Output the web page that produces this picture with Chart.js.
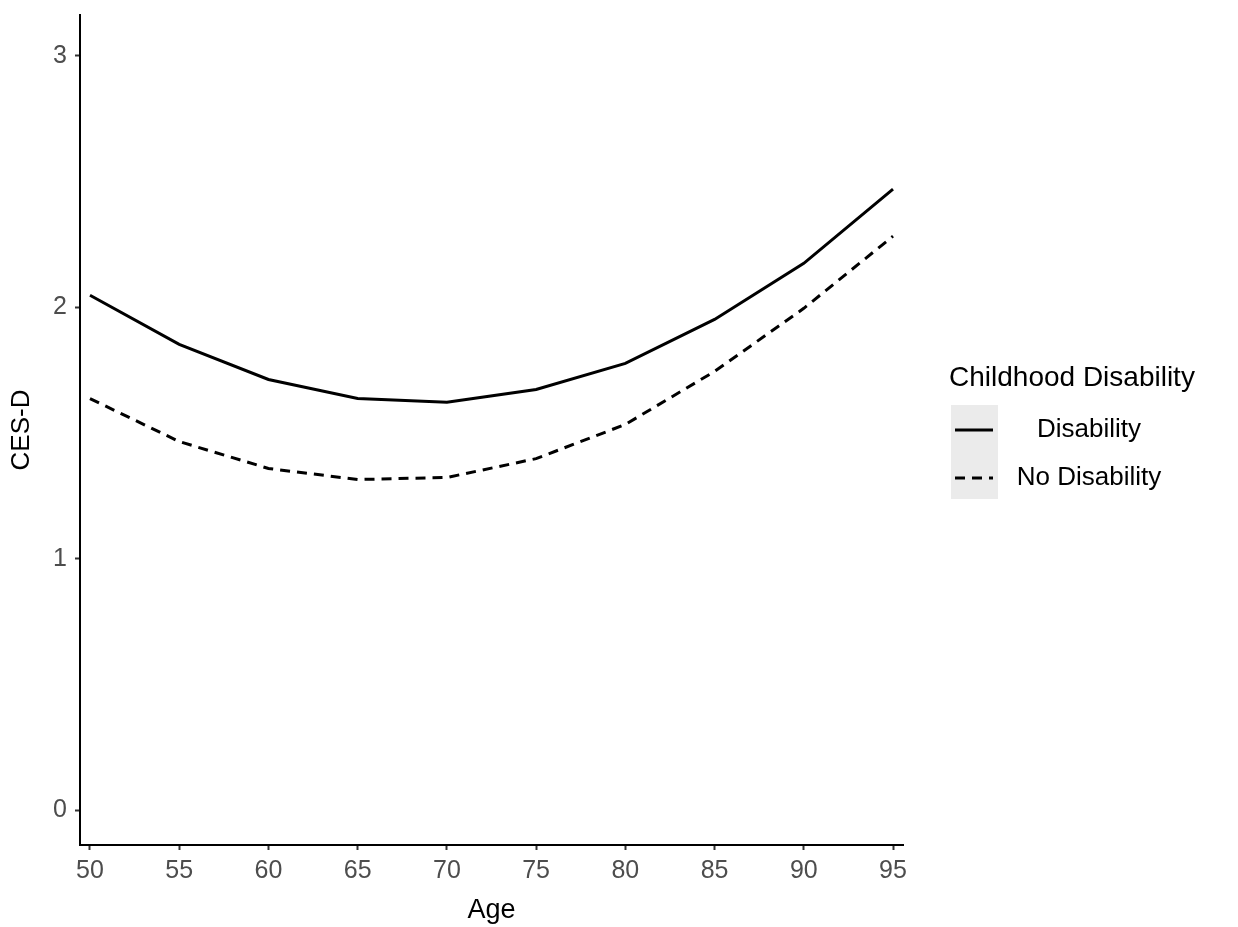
<!DOCTYPE html>
<html>
<head>
<meta charset="utf-8">
<script src="https://cdn.jsdelivr.net/npm/chart.js@4.4.1/dist/chart.umd.min.js"></script>
<style>
  html, body { margin: 0; padding: 0; background: #fff; }
  canvas { display: block; }
</style>
</head>
<body>
<canvas id="chart" width="1238" height="927"></canvas>
<script>
// Data
const ages = [50, 55, 60, 65, 70, 75, 80, 85, 90, 95];
const disability = [2.048, 1.853, 1.713, 1.637, 1.622, 1.673, 1.777, 1.952, 2.175, 2.470];
const noDisability = [1.637, 1.466, 1.359, 1.315, 1.323, 1.398, 1.534, 1.745, 1.996, 2.283];
const xTicks = [50, 55, 60, 65, 70, 75, 80, 85, 90, 95];
const yTicks = [0, 1, 2, 3];
const seriesNames = ['Disability', 'No Disability'];
const legendTitle = 'Childhood Disability';

const FONT = "'Liberation Sans', Arial, sans-serif";

function toPoints(values) {
  return ages.map((a, i) => ({ x: a, y: values[i] }));
}

// ggplot-style legend drawn on the canvas, right of the plot
const legendPlugin = {
  id: 'ggLegend',
  afterDraw(chart) {
    const ctx = chart.ctx;
    ctx.save();
    ctx.fillStyle = '#000';
    ctx.font = '28px ' + FONT;
    ctx.textBaseline = 'middle';
    ctx.textAlign = 'left';
    ctx.fillText(legendTitle, 949, 378);

    // key background
    ctx.fillStyle = '#ebebeb';
    ctx.fillRect(951, 405, 47, 94);

    const rows = [430, 478];
    chart.data.datasets.forEach((ds, i) => {
      const y = rows[i];
      ctx.strokeStyle = ds.borderColor;
      ctx.lineWidth = ds.borderWidth;
      ctx.setLineDash(ds.borderDash || []);
      ctx.beginPath();
      ctx.moveTo(955, y);
      ctx.lineTo(993, y);
      ctx.stroke();
      ctx.setLineDash([]);
      ctx.fillStyle = '#000';
      ctx.font = '26px ' + FONT;
      ctx.textAlign = 'center';
      ctx.fillText(ds.label, 1089, y);
    });
    ctx.restore();
  }
};

new Chart(document.getElementById('chart'), {
  type: 'line',
  data: {
    datasets: [
      {
        label: seriesNames[0],
        data: toPoints(disability),
        borderColor: '#000',
        borderWidth: 3,
        pointRadius: 0,
        tension: 0,
        fill: false
      },
      {
        label: seriesNames[1],
        data: toPoints(noDisability),
        borderColor: '#000',
        borderWidth: 3,
        borderDash: [10, 7],
        pointRadius: 0,
        tension: 0,
        fill: false
      }
    ]
  },
  options: {
    responsive: false,
    animation: false,
    devicePixelRatio: 1,
    layout: { padding: { top: 15, right: 335, left: 0, bottom: 0 } },
    plugins: {
      legend: { display: false },
      tooltip: { enabled: false }
    },
    scales: {
      x: {
        type: 'linear',
        min: 49.44,
        max: 95.56,
        afterBuildTicks: axis => { axis.ticks = xTicks.map(v => ({ value: v })); },
        afterFit: axis => { axis.height = 82; },
        border: { display: true, color: '#000', width: 2 },
        grid: { display: true, drawOnChartArea: false, drawTicks: true, tickLength: 5, tickColor: '#333', tickWidth: 2 },
        ticks: { color: '#4d4d4d', font: { family: FONT, size: 25 }, padding: 6, maxRotation: 0 },
        title: { display: true, text: 'Age', color: '#000', font: { family: FONT, size: 27 }, padding: { top: 2, bottom: 0 } }
      },
      y: {
        type: 'linear',
        min: -0.139,
        max: 3.163,
        afterBuildTicks: axis => { axis.ticks = yTicks.map(v => ({ value: v })); },
        afterFit: axis => {
          axis.width = 80;
          axis.paddingTop = 0;
          axis.paddingBottom = 0;
        },
        border: { display: true, color: '#000', width: 2 },
        grid: { display: true, drawOnChartArea: false, drawTicks: true, tickLength: 5, tickColor: '#333', tickWidth: 2 },
        ticks: { color: '#4d4d4d', font: { family: FONT, size: 25 }, padding: 8 },
        title: { display: true, text: 'CES-D', color: '#000', font: { family: FONT, size: 26 }, padding: { top: 6, bottom: 0 } }
      }
    }
  },
  plugins: [legendPlugin]
});
</script>
</body>
</html>
